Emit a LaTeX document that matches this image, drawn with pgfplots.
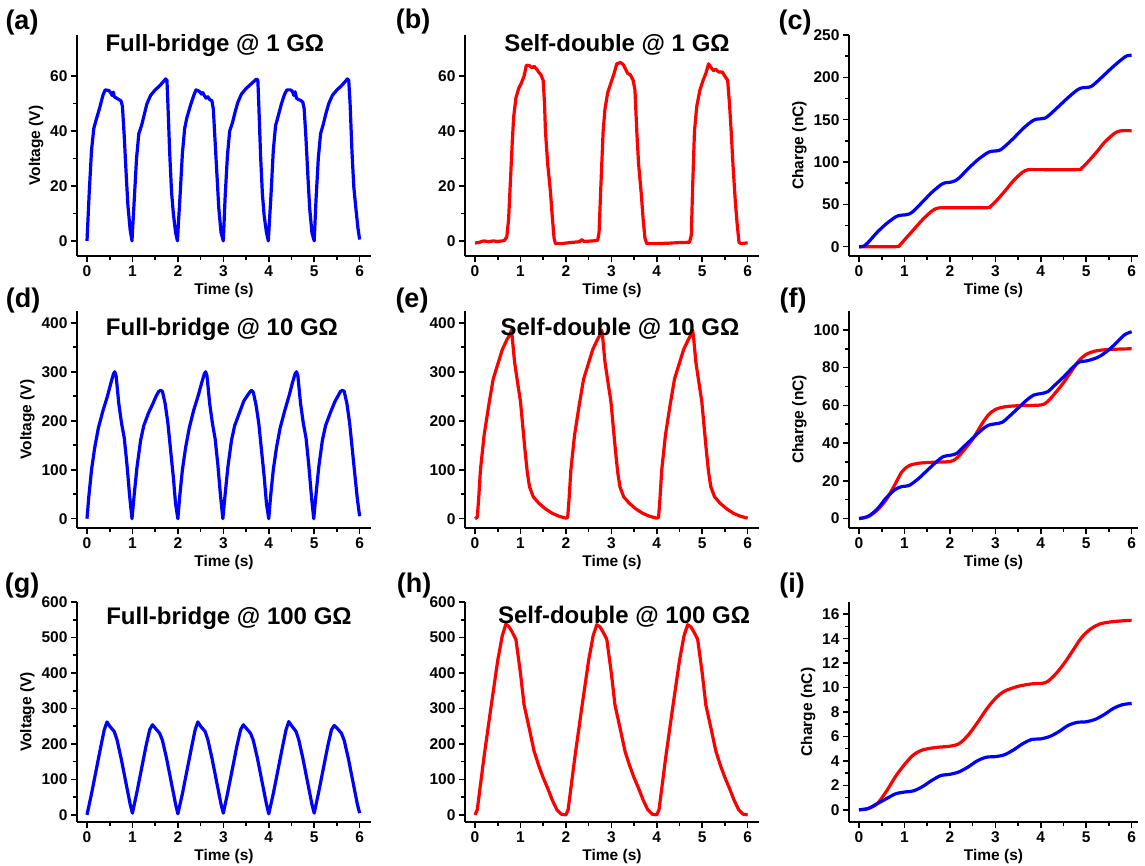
\documentclass[border=0pt]{standalone}
\usepackage{fontspec}
\setmainfont{Liberation Sans}
\usepackage{pgfplots}
\pgfplotsset{compat=1.18}

\pgfplotsset{
  panel/.style={
    scale only axis, width=294pt,
    axis x line=bottom, axis y line=left,
    axis line style={-, line width=2.5pt, black},
    xmin=-0.22, xmax=6.25,
    xtick={0,...,6}, minor x tick num=1, minor y tick num=1,
    tick align=outside, major tick length=6pt, minor tick length=4pt,
    tick style={black, line width=1.6pt},
    ticklabel style={font=\fontsize{15.5}{15.5}\selectfont\bfseries},
    /pgf/number format/assume math mode=true,
    label style={font=\fontsize{15.5}{16}\selectfont\bfseries},
    xlabel={Time (s)},
    every axis plot/.append style={line width=3.2pt, line join=round, no markers},
  },
  col3/.style={width=289pt, xmax=6.14, ylabel={Charge (nC)}},
}
\tikzset{ttl/.style={font=\fontsize{24}{26}\selectfont\bfseries}}
\newcommand{\plab}{\fontsize{27}{30}\selectfont\bfseries}

\begin{document}
\begin{tikzpicture}
\path[use as bounding box] (0,0) rectangle (1145pt,865pt);

% ---------- row 1 ----------
\begin{axis}[panel, at={(77pt,609pt)}, anchor=south west, height=221pt,
  ymin=-5.5, ymax=75, ytick={0,20,40,60}, ylabel={Voltage (V)}]
\addplot[blue] coordinates {
(0,0) (0.05,18) (0.10,33) (0.15,41) (0.20,44) (0.28,48.5) (0.35,53) (0.40,55) (0.48,54.8) (0.52,54) (0.55,53) (0.58,54.2) (0.60,52.5) (0.65,52) (0.70,51.5) (0.75,51) (0.78,49) (0.82,38) (0.86,25) (0.90,13) (0.95,4) (0.99,0)
(1.04,15) (1.09,30) (1.14,39) (1.20,42) (1.26,46) (1.32,50) (1.40,53) (1.50,55) (1.60,56.5) (1.68,58) (1.73,59) (1.76,58.5) (1.78,50) (1.82,32) (1.86,18) (1.90,10) (1.95,3) (1.99,0)
(2.05,17) (2.10,32) (2.15,41) (2.20,45) (2.28,49.5) (2.35,53) (2.40,55) (2.47,54.5) (2.52,53.5) (2.55,54) (2.58,53) (2.62,52) (2.66,52.5) (2.70,51.5) (2.75,51) (2.78,48) (2.82,36) (2.86,24) (2.90,12) (2.95,3) (3.0,0)
(3.04,16) (3.09,31) (3.14,40) (3.20,43) (3.26,47) (3.32,50.5) (3.40,53.5) (3.50,55.5) (3.60,57) (3.68,58.2) (3.73,59) (3.76,58.5) (3.78,50) (3.82,31) (3.86,17) (3.90,9) (3.95,3) (3.99,0)
(4.05,17) (4.10,33) (4.15,42) (4.20,45) (4.28,50) (4.35,53.5) (4.40,55) (4.48,55) (4.52,54.5) (4.55,53) (4.58,54.3) (4.61,52) (4.65,51.5) (4.70,51.2) (4.75,50.5) (4.78,48) (4.82,37) (4.86,24) (4.90,12) (4.95,3) (5.0,0)
(5.04,15) (5.09,30) (5.14,39) (5.20,42.5) (5.26,46.5) (5.32,50) (5.40,53) (5.50,55) (5.60,56.5) (5.68,58) (5.73,59) (5.76,58.5) (5.79,50) (5.83,33) (5.87,20) (5.91,13) (5.96,5) (6.0,0.5)
};
\node[ttl] at (rel axis cs:0.469,0.955) {Full-bridge @ 1 GΩ};
\end{axis}

\begin{axis}[panel, at={(465pt,609pt)}, anchor=south west, height=221pt,
  ymin=-5.5, ymax=75, ytick={0,20,40,60}]
\addplot[red] coordinates {
(0,-0.8) (0.1,-0.5) (0.15,-0.2) (0.2,0) (0.3,-0.3) (0.4,0) (0.5,-0.2) (0.6,0) (0.65,0.2) (0.70,1.5) (0.74,8) (0.78,22) (0.82,36) (0.85,45) (0.90,52) (0.96,55.5) (1.02,57.5) (1.08,60) (1.13,64) (1.20,63.8) (1.26,63) (1.30,63.6) (1.36,62.5) (1.40,61.5) (1.45,60.5) (1.50,58.5) (1.53,50) (1.55,40) (1.60,28) (1.66,18) (1.70,9) (1.74,1) (1.77,-1)
(1.9,-1) (2.1,-0.6) (2.3,-0.3) (2.35,0.5) (2.4,-0.2) (2.6,0) (2.7,0.2) (2.73,3) (2.77,20) (2.82,40) (2.86,48) (2.92,54) (3.0,58) (3.06,61) (3.12,64.5) (3.20,65) (3.26,64.3) (3.33,62) (3.36,61) (3.42,60.5) (3.48,58.5) (3.52,55) (3.56,40) (3.60,28) (3.66,17) (3.70,8) (3.74,1) (3.78,-1)
(4.0,-1) (4.3,-0.8) (4.5,-0.6) (4.72,-0.5) (4.76,2) (4.79,20) (4.83,40) (4.88,49) (4.95,55) (5.02,58.5) (5.08,61) (5.14,64.5) (5.20,63) (5.25,62) (5.30,62.5) (5.36,61.5) (5.44,61.5) (5.50,60) (5.56,58.5) (5.60,50) (5.63,42) (5.68,27) (5.73,14) (5.77,6) (5.81,-0.5) (5.85,-1) (6.0,-0.7)
};
\node[ttl] at (rel axis cs:0.517,0.955) {Self-double @ 1 GΩ};
\end{axis}

\begin{axis}[panel, col3, at={(849pt,609pt)}, anchor=south west, height=221pt,
  ymin=-11, ymax=250, ytick={0,50,...,250}]
\addplot[red, smooth] coordinates {
(0,0) (0.8,0) (0.9,2) (1.0,8) (1.2,20) (1.4,32) (1.6,42) (1.7,45) (1.8,46) (2.0,46) (2.8,46) (2.9,48) (3.0,53) (3.2,65) (3.4,78) (3.6,88) (3.7,90.5) (3.8,91) (4.8,91) (4.9,93) (5.0,98) (5.2,110) (5.4,123) (5.6,133) (5.7,136) (5.8,137) (6.0,137)
};
\addplot[blue, smooth] coordinates {
(0,0) (0.1,0.5) (0.2,5) (0.4,17) (0.6,27) (0.8,35) (0.9,37) (1.0,37.5) (1.1,38.5) (1.2,42) (1.4,53) (1.6,64) (1.8,73) (1.9,75.5) (2.0,76) (2.1,77.5) (2.2,81) (2.4,92) (2.6,102) (2.8,110) (2.9,112.5) (3.0,113) (3.1,114) (3.2,118) (3.4,128) (3.6,139) (3.8,148) (3.9,150.5) (4.0,151) (4.1,152) (4.2,156) (4.4,166) (4.6,176) (4.8,185) (4.9,187.5) (5.0,188) (5.1,189) (5.2,193) (5.4,203) (5.6,213) (5.8,222) (5.9,225.5) (6.0,226)
};
\end{axis}

% ---------- row 2 ----------
\begin{axis}[panel, at={(77pt,337pt)}, anchor=south west, height=217pt,
  ymin=-19, ymax=424, ytick={0,100,...,400}, ylabel={Voltage (V)}]
\addplot[blue] coordinates {
(0,0) (0.04,45) (0.10,100) (0.17,145) (0.25,185) (0.35,220) (0.45,250) (0.52,275) (0.58,295) (0.61,300) (0.64,292) (0.70,235) (0.76,195) (0.82,165) (0.88,110) (0.94,45) (0.99,0)
(1.04,50) (1.10,105) (1.18,160) (1.25,190) (1.35,215) (1.45,235) (1.52,250) (1.58,260) (1.62,262) (1.66,260) (1.72,235) (1.78,195) (1.84,140) (1.90,85) (1.95,30) (2.0,0)
(2.04,45) (2.10,100) (2.17,145) (2.25,185) (2.35,222) (2.45,252) (2.52,276) (2.58,295) (2.61,300) (2.64,292) (2.70,235) (2.76,195) (2.82,163) (2.88,110) (2.94,45) (2.99,0)
(3.04,50) (3.10,105) (3.18,160) (3.25,190) (3.35,215) (3.45,240) (3.52,250) (3.58,258) (3.62,262) (3.66,258) (3.72,232) (3.78,195) (3.84,140) (3.90,85) (3.95,30) (4.0,0)
(4.04,45) (4.10,100) (4.17,145) (4.25,185) (4.35,220) (4.45,252) (4.52,277) (4.58,296) (4.61,300) (4.64,292) (4.70,235) (4.76,195) (4.82,165) (4.88,110) (4.94,45) (4.99,0)
(5.04,50) (5.10,105) (5.18,160) (5.25,190) (5.35,215) (5.45,238) (5.52,250) (5.58,260) (5.62,262) (5.66,260) (5.72,235) (5.78,195) (5.84,140) (5.90,85) (5.95,40) (6.0,5)
};
\node[ttl] at (rel axis cs:0.493,0.917) {Full-bridge @ 10 GΩ};
\end{axis}

\begin{axis}[panel, at={(465pt,337pt)}, anchor=south west, height=217pt,
  ymin=-19, ymax=424, ytick={0,100,...,400}]
\addplot[red] coordinates {
(0,0) (0.05,3) (0.08,40) (0.12,100) (0.20,170) (0.30,230) (0.40,285) (0.50,315) (0.60,345) (0.70,365) (0.78,378) (0.80,385) (0.82,370) (0.87,320) (0.95,270) (1.00,240) (1.04,200) (1.10,140) (1.15,95) (1.20,65) (1.28,45) (1.40,32) (1.55,20) (1.70,11) (1.85,5) (2.0,1)
(2.04,3) (2.07,40) (2.11,100) (2.19,170) (2.29,230) (2.39,285) (2.49,315) (2.59,345) (2.69,365) (2.77,378) (2.79,385) (2.81,370) (2.86,320) (2.94,270) (2.99,240) (3.03,200) (3.09,140) (3.14,95) (3.19,65) (3.27,45) (3.39,32) (3.54,20) (3.69,11) (3.84,5) (4.0,1)
(4.04,3) (4.07,40) (4.11,100) (4.19,170) (4.29,230) (4.39,285) (4.49,315) (4.59,345) (4.69,365) (4.77,378) (4.79,385) (4.81,370) (4.86,320) (4.94,270) (4.99,240) (5.03,200) (5.09,140) (5.14,95) (5.19,65) (5.27,45) (5.39,32) (5.54,20) (5.69,11) (5.84,5) (6.0,1)
};
\node[ttl] at (rel axis cs:0.527,0.917) {Self-double @ 10 GΩ};
\end{axis}

\begin{axis}[panel, col3, at={(849pt,337pt)}, anchor=south west, height=217pt,
  ymin=-5, ymax=110, ytick={0,20,...,100}]
\addplot[red, smooth] coordinates {
(0,0) (0.2,1) (0.4,4.5) (0.6,10) (0.8,18.5) (0.95,25) (1.1,28) (1.3,29.3) (1.6,29.8) (2.0,30.2) (2.15,32) (2.3,36) (2.5,42) (2.7,50) (2.85,55) (3.0,57.8) (3.2,59.2) (3.5,59.8) (4.0,60.2) (4.15,62) (4.3,66) (4.5,72) (4.7,79) (4.85,84) (5.0,87) (5.2,88.8) (5.5,89.6) (6.0,90)
};
\addplot[blue, smooth] coordinates {
(0,0) (0.2,1.2) (0.4,5) (0.6,11) (0.8,15.5) (0.95,17) (1.1,17.5) (1.3,21) (1.5,25.5) (1.7,30) (1.85,32.8) (2.0,33.5) (2.15,34.5) (2.3,38) (2.5,42.5) (2.7,47) (2.85,49.5) (3.0,50.2) (3.15,51) (3.3,54) (3.5,58.5) (3.7,63) (3.85,65.5) (4.0,66.2) (4.15,67.2) (4.3,70.5) (4.5,75) (4.7,80) (4.85,83) (5.0,83.5) (5.15,84.5) (5.3,86) (5.5,89.5) (5.7,94) (5.85,97.5) (6.0,99)
};
\end{axis}

% ---------- row 3 ----------
\begin{axis}[panel, at={(77pt,43pt)}, anchor=south west, height=220pt,
  ymin=-20, ymax=600, ytick={0,100,...,600}, ylabel={Voltage (V)}]
\addplot[blue] coordinates {
(0,0) (0.10,60) (0.20,125) (0.30,190) (0.38,240) (0.44,262) (0.50,250) (0.60,235) (0.66,212) (0.75,160) (0.85,95) (0.95,30) (1.0,5)
(1.10,65) (1.20,130) (1.30,195) (1.38,240) (1.44,254) (1.50,245) (1.60,230) (1.66,210) (1.75,160) (1.85,95) (1.95,30) (2.0,3)
(2.10,60) (2.20,125) (2.30,190) (2.38,240) (2.44,262) (2.50,250) (2.60,235) (2.66,212) (2.75,160) (2.85,95) (2.95,30) (3.0,5)
(3.10,65) (3.20,130) (3.30,195) (3.38,240) (3.44,254) (3.50,245) (3.60,230) (3.66,210) (3.75,160) (3.85,95) (3.95,30) (4.0,3)
(4.10,60) (4.20,125) (4.30,190) (4.38,240) (4.44,263) (4.50,252) (4.60,235) (4.66,212) (4.75,160) (4.85,95) (4.95,30) (5.0,5)
(5.10,65) (5.20,130) (5.30,195) (5.38,240) (5.44,252) (5.50,245) (5.60,230) (5.66,210) (5.75,160) (5.85,95) (5.95,30) (6.0,5)
};
\node[ttl] at (rel axis cs:0.517,0.927) {Full-bridge @ 100 GΩ};
\end{axis}

\begin{axis}[panel, at={(465pt,43pt)}, anchor=south west, height=220pt,
  ymin=-20, ymax=600, ytick={0,100,...,600}]
\addplot[red] coordinates {
(0,0) (0.05,15) (0.20,165) (0.35,302) (0.50,435) (0.60,505) (0.68,538) (0.75,530) (0.82,515) (0.90,495) (1.00,400) (1.08,310) (1.20,240) (1.30,180) (1.40,140) (1.50,105) (1.60,75) (1.70,42) (1.80,15) (1.90,2) (2.0,0)
(2.05,15) (2.20,165) (2.35,302) (2.50,435) (2.60,505) (2.68,536) (2.75,530) (2.82,515) (2.90,495) (3.00,400) (3.08,310) (3.20,240) (3.30,180) (3.40,140) (3.50,105) (3.60,75) (3.70,42) (3.80,15) (3.90,2) (4.0,0)
(4.05,15) (4.20,165) (4.35,302) (4.50,435) (4.60,505) (4.68,536) (4.75,530) (4.82,515) (4.90,495) (5.00,400) (5.08,310) (5.20,240) (5.30,180) (5.40,140) (5.50,105) (5.60,75) (5.70,42) (5.80,15) (5.90,2) (6.0,0)
};
\node[ttl] at (rel axis cs:0.541,0.932) {Self-double @ 100 GΩ};
\end{axis}

\begin{axis}[panel, col3, at={(849pt,43pt)}, anchor=south west, height=220pt,
  ymin=-1, ymax=17, ytick={0,2,...,16}]
\addplot[red, smooth] coordinates {
(0,0) (0.2,0.1) (0.4,0.5) (0.6,1.5) (0.8,2.7) (1.0,3.7) (1.2,4.5) (1.4,4.9) (1.7,5.1) (2.0,5.2) (2.2,5.4) (2.4,6.1) (2.6,7.1) (2.8,8.2) (3.0,9.1) (3.2,9.7) (3.5,10.1) (3.8,10.3) (4.1,10.4) (4.3,11) (4.5,11.9) (4.7,13) (4.9,14.1) (5.1,14.8) (5.3,15.2) (5.6,15.4) (6.0,15.5)
};
\addplot[blue, smooth] coordinates {
(0,0) (0.2,0.1) (0.4,0.5) (0.6,0.9) (0.8,1.3) (1.0,1.45) (1.2,1.55) (1.4,1.9) (1.6,2.4) (1.8,2.8) (2.0,2.9) (2.2,3.1) (2.4,3.5) (2.6,4.0) (2.8,4.3) (3.0,4.35) (3.2,4.5) (3.4,4.9) (3.6,5.4) (3.8,5.75) (4.0,5.8) (4.2,6.0) (4.4,6.4) (4.6,6.9) (4.8,7.15) (5.0,7.2) (5.2,7.4) (5.4,7.8) (5.6,8.3) (5.8,8.6) (6.0,8.7)
};
\end{axis}

% panel letters
\node[font=\plab] at (22pt,842pt) {(a)};
\node[font=\plab] at (413pt,843pt) {(b)};
\node[font=\plab] at (795pt,842pt) {(c)};
\node[font=\plab] at (23pt,564pt) {(d)};
\node[font=\plab] at (412pt,564pt) {(e)};
\node[font=\plab] at (793pt,564pt) {(f)};
\node[font=\plab] at (22pt,279pt) {(g)};
\node[font=\plab] at (414pt,279pt) {(h)};
\node[font=\plab] at (792pt,279pt) {(i)};
\end{tikzpicture}
\end{document}
